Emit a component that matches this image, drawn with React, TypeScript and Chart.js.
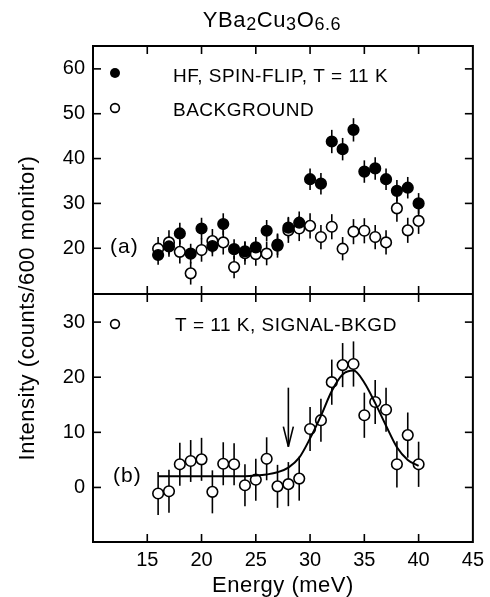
import React, { useEffect, useRef } from "react";
import { Chart, registerables } from "chart.js";

Chart.register(...registerables);

// ---- data ----
const ENERGY = [16, 17, 18, 19, 20, 21, 22, 23, 24, 25, 26, 27, 28, 29, 30, 31, 32, 33, 34, 35, 36, 37, 38, 39, 40];
const HF_SPIN_FLIP = [18.5, 20.4, 23.3, 18.8, 24.4, 20.5, 25.4, 19.8, 19.3, 20.2, 23.9, 20.8, 24.6, 25.7, 35.4, 34.4, 43.8, 42.1, 46.4, 37.1, 37.8, 35.4, 32.8, 33.5, 30.0];
const HF_ERR = [2.2, 2.3, 2.4, 2.2, 2.4, 2.3, 2.4, 2.2, 2.2, 2.3, 2.4, 2.3, 2.4, 2.5, 2.4, 2.4, 2.6, 2.5, 2.6, 2.5, 2.5, 2.4, 2.4, 2.4, 2.3];
const BACKGROUND = [19.9, 21.3, 19.2, 14.4, 19.6, 21.6, 21.3, 15.8, 18.9, 18.7, 18.8, 20.6, 24.0, 24.4, 25.0, 22.5, 24.8, 19.9, 23.7, 23.9, 22.5, 21.3, 28.9, 24.0, 26.1];
const BG_ERR = [2.6, 2.7, 2.6, 2.5, 2.6, 2.7, 2.7, 2.5, 2.6, 2.6, 2.6, 2.7, 2.8, 2.8, 2.8, 2.7, 2.8, 2.6, 2.8, 2.8, 2.7, 2.7, 3.0, 2.8, 2.9];
const SIGNAL_BKGD = [-1.1, -0.7, 4.2, 4.8, 5.1, -0.8, 4.3, 4.2, 0.4, 1.4, 5.2, 0.2, 0.6, 1.6, 10.6, 12.2, 19.1, 22.2, 22.4, 13.1, 15.5, 14.1, 4.2, 9.5, 4.2];
const DIFF_ERR = [3.9, 3.9, 3.9, 3.8, 3.9, 3.9, 3.9, 3.8, 3.8, 3.8, 3.9, 3.9, 4.0, 4.0, 4.0, 3.9, 4.1, 4.0, 4.1, 4.1, 4.0, 4.0, 4.2, 4.1, 4.1];
const FIT_E = [16, 18, 20, 22, 24, 25, 26, 27, 28, 29, 30, 31, 32, 33, 34, 35, 36, 37, 38, 39, 40];
const FIT_Y = [2.05, 2.05, 2.05, 2.05, 2.05, 2.15, 2.35, 2.75, 3.6, 5.4, 8.9, 13.0, 17.5, 20.5, 21.2, 19.0, 15.3, 11.2, 7.3, 5.0, 3.9];
const ARROW_E = 28;
const ARROW_FROM = 18.1;
const ARROW_TO = 7.4;

// ---- axes ----
const X_TICKS = [15, 20, 25, 30, 35, 40, 45];
const X_MARKS = [15, 20, 25, 30, 35, 40];
const TOP_Y_TICKS = [20, 30, 40, 50, 60];
const BOT_Y_TICKS = [0, 10, 20, 30];
const X_RANGE = [10, 45];
const TOP_RANGE = [9.8, 65.1];
const BOT_RANGE = [-9.9, 35.1];

const TITLE_PARTS = [
  { t: "YBa", sub: false },
  { t: "2", sub: true },
  { t: "Cu", sub: false },
  { t: "3", sub: true },
  { t: "O", sub: false },
  { t: "6.6", sub: true },
];
const Y_TITLE = "Intensity (counts/600 monitor)";
const X_TITLE = "Energy (meV)";
const LEGEND_HF = "HF, SPIN-FLIP, T = 11 K";
const LEGEND_BG = "BACKGROUND";
const LEGEND_DIFF = "T = 11 K, SIGNAL-BKGD";
const PANEL_A = "(a)";
const PANEL_B = "(b)";

const FONT = "'Liberation Sans', Arial, Helvetica, sans-serif";

export default function App() {
  const ref = useRef<HTMLCanvasElement>(null);

  useEffect(() => {
    const canvas = ref.current!;
    const pts = (ys: number[]) => ENERGY.map((x, i) => ({ x, y: ys[i] }));

    const setText = (ctx: any, size: number, ls: number) => {
      ctx.font = `${size}px ${FONT}`;
      ctx.letterSpacing = `${ls}px`;
    };

    const deco = {
      id: "deco",
      beforeDatasetsDraw(chart: any) {
        const ctx = chart.ctx;
        const sx = chart.scales.x;
        const ya = chart.scales.ya;
        const yb = chart.scales.yb;
        ctx.save();
        ctx.strokeStyle = "#000";
        ctx.lineWidth = 1.6;
        const bars = (vals: number[], errs: number[], s: any) => {
          ENERGY.forEach((e, i) => {
            const px = sx.getPixelForValue(e);
            ctx.beginPath();
            ctx.moveTo(px, s.getPixelForValue(vals[i] - errs[i]));
            ctx.lineTo(px, s.getPixelForValue(vals[i] + errs[i]));
            ctx.stroke();
          });
        };
        bars(BACKGROUND, BG_ERR, ya);
        bars(HF_SPIN_FLIP, HF_ERR, ya);
        bars(SIGNAL_BKGD, DIFF_ERR, yb);
        ctx.restore();
      },
      afterDraw(chart: any) {
        const ctx = chart.ctx;
        const ca = chart.chartArea;
        const sx = chart.scales.x;
        const ya = chart.scales.ya;
        const yb = chart.scales.yb;
        const mid = ya.getPixelForValue(TOP_RANGE[0]);
        const line = (x1: number, y1: number, x2: number, y2: number) => {
          ctx.beginPath();
          ctx.moveTo(x1, y1);
          ctx.lineTo(x2, y2);
          ctx.stroke();
        };
        ctx.save();
        ctx.strokeStyle = "#000";
        ctx.fillStyle = "#000";
        ctx.lineWidth = 2;
        ctx.strokeRect(ca.left, ca.top, ca.right - ca.left, ca.bottom - ca.top);
        line(ca.left, mid, ca.right, mid);

        // inward tick marks
        const TL = 8;
        ctx.lineWidth = 1.6;
        for (const v of X_MARKS) {
          const px = sx.getPixelForValue(v);
          line(px, ca.top, px, ca.top + TL);
          line(px, mid - TL, px, mid + TL);
          line(px, ca.bottom - TL, px, ca.bottom);
        }
        for (const v of TOP_Y_TICKS) {
          const py = ya.getPixelForValue(v);
          line(ca.left, py, ca.left + TL, py);
          line(ca.right - TL, py, ca.right, py);
        }
        for (const v of BOT_Y_TICKS) {
          const py = yb.getPixelForValue(v);
          line(ca.left, py, ca.left + TL, py);
          line(ca.right - TL, py, ca.right, py);
        }

        // arrow
        const ax = sx.getPixelForValue(ARROW_E);
        const a1 = yb.getPixelForValue(ARROW_FROM);
        const a2 = yb.getPixelForValue(ARROW_TO);
        ctx.lineWidth = 1.6;
        line(ax, a1, ax, a2);
        line(ax - 5, a2 - 20, ax, a2);
        line(ax + 5, a2 - 20, ax, a2);

        // legend markers
        const mx = ca.left + 22;
        ctx.lineWidth = 1.6;
        ctx.beginPath();
        ctx.arc(mx, ca.top + 27, 5, 0, Math.PI * 2);
        ctx.fill();
        ctx.fillStyle = "#fff";
        ctx.beginPath();
        ctx.arc(mx, ca.top + 62, 4.4, 0, Math.PI * 2);
        ctx.fill();
        ctx.stroke();
        ctx.beginPath();
        ctx.arc(mx, mid + 30, 4.4, 0, Math.PI * 2);
        ctx.fill();
        ctx.stroke();
        ctx.fillStyle = "#000";

        // legend texts
        ctx.textBaseline = "alphabetic";
        ctx.textAlign = "left";
        setText(ctx, 19, 0.5);
        ctx.fillText(LEGEND_HF, ca.left + 80, ca.top + 36);
        ctx.fillText(LEGEND_BG, ca.left + 80, ca.top + 70);
        ctx.fillText(LEGEND_DIFF, ca.left + 82, mid + 37);

        // panel labels
        setText(ctx, 21, 1);
        ctx.fillText(PANEL_A, ca.left + 17, ya.getPixelForValue(20) + 5);
        ctx.fillText(PANEL_B, ca.left + 20, yb.getPixelForValue(0) - 5);

        // title with subscripts
        const mainSize = 22;
        const subSize = 18;
        let total = 0;
        for (const p of TITLE_PARTS) {
          setText(ctx, p.sub ? subSize : mainSize, 0.6);
          total += ctx.measureText(p.t).width;
        }
        let tx = 272 - total / 2;
        for (const p of TITLE_PARTS) {
          setText(ctx, p.sub ? subSize : mainSize, 0.6);
          ctx.fillText(p.t, tx, p.sub ? 30 : 27);
          tx += ctx.measureText(p.t).width;
        }

        // x title
        setText(ctx, 22, 0.5);
        ctx.textAlign = "center";
        ctx.fillText(X_TITLE, (ca.left + ca.right) / 2, 592);

        // y title
        ctx.save();
        ctx.translate(28, 308);
        ctx.rotate(-Math.PI / 2);
        ctx.textBaseline = "middle";
        setText(ctx, 22, 0.5);
        ctx.fillText(Y_TITLE, 0, 0);
        ctx.restore();

        ctx.letterSpacing = "0px";
        ctx.restore();
      },
    };

    const yCommon = (min: number, max: number, ticks: number[]) => ({
      type: "linear" as const,
      position: "left" as const,
      stack: "panels",
      stackWeight: 1,
      min,
      max,
      grid: { display: false, drawTicks: false },
      border: { display: false },
      ticks: { font: { size: 20, family: FONT }, color: "#000", padding: 8 },
      afterBuildTicks: (s: any) => {
        s.ticks = ticks.map((v) => ({ value: v }));
      },
      afterFit: (s: any) => {
        s.width = 93;
      },
    });

    const pointStyle = (fill: string) => ({
      pointRadius: 5.3,
      pointHoverRadius: 5.3,
      backgroundColor: fill,
      borderColor: "#000",
      borderWidth: 1.6,
    });

    const chart = new Chart(canvas, {
      type: "scatter",
      data: {
        datasets: [
          {
            label: "fit",
            data: FIT_E.map((x, i) => ({ x, y: FIT_Y[i] })),
            yAxisID: "yb",
            showLine: true,
            pointRadius: 0,
            borderColor: "#000",
            borderWidth: 2,
            cubicInterpolationMode: "monotone",
            fill: false,
            order: 0,
          } as any,
          { label: LEGEND_HF, data: pts(HF_SPIN_FLIP), yAxisID: "ya", ...pointStyle("#000"), order: 1 },
          { label: LEGEND_BG, data: pts(BACKGROUND), yAxisID: "ya", ...pointStyle("#fff"), order: 2 },
          { label: LEGEND_DIFF, data: pts(SIGNAL_BKGD), yAxisID: "yb", ...pointStyle("#fff"), order: 2 },
        ],
      },
      options: {
        animation: false,
        responsive: false,
        devicePixelRatio: 1,
        events: [],
        layout: { padding: { top: 46, right: 14, left: 0, bottom: 0 } },
        plugins: {
          legend: { display: false },
          tooltip: { enabled: false },
          title: { display: false },
        },
        scales: {
          x: {
            type: "linear",
            position: "bottom",
            min: X_RANGE[0],
            max: X_RANGE[1],
            grid: { display: false, drawTicks: false },
            border: { display: false },
            ticks: { font: { size: 20, family: FONT }, color: "#000", padding: 6 },
            afterBuildTicks: (s: any) => {
              s.ticks = X_TICKS.map((v) => ({ value: v }));
            },
            afterFit: (s: any) => {
              s.height = 55;
            },
          },
          yb: yCommon(BOT_RANGE[0], BOT_RANGE[1], BOT_Y_TICKS),
          ya: yCommon(TOP_RANGE[0], TOP_RANGE[1], TOP_Y_TICKS),
        } as any,
      },
      plugins: [deco],
    });

    return () => chart.destroy();
  }, []);

  return (
    <div style={{ position: "fixed", left: 0, top: 0, width: 490, height: 597, background: "#fff" }}>
      <canvas ref={ref} width={490} height={597} style={{ display: "block", width: 490, height: 597 }} />
    </div>
  );
}
